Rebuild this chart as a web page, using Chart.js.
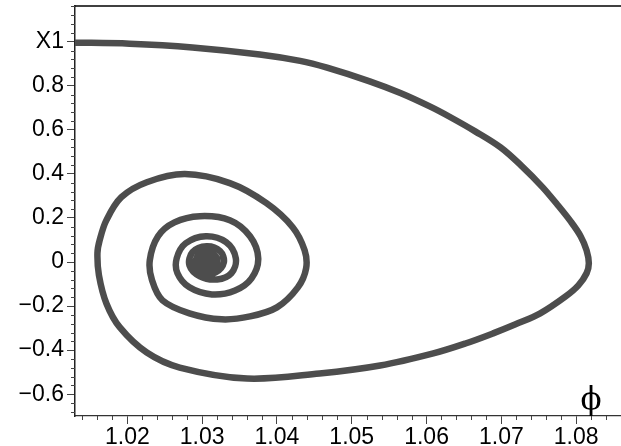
<!DOCTYPE html>
<html>
<head>
<meta charset="utf-8">
<script src="https://cdn.jsdelivr.net/npm/chart.js@4.4.1/dist/chart.umd.min.js"></script>
<style>
  html, body { margin: 0; padding: 0; background: #fff; }
  #wrap { width: 621px; height: 446px; }
</style>
</head>
<body>
<div id="wrap"><canvas id="phaseChart"></canvas></div>
<script>
// trajectory, phi on x and X1 on y
const phi = [
  1.0125, 1.0203, 1.0287, 1.0377, 1.0431, 1.0467, 1.0524, 1.0565, 1.0605, 1.0632,
  1.0665, 1.0699, 1.0728, 1.0755, 1.0775, 1.0793, 1.0806, 1.0814, 1.0817, 1.0814,
  1.0803, 1.0786, 1.0752, 1.0719, 1.0689, 1.0652, 1.0609, 1.0538, 1.0457,
  1.0360, 1.0270, 1.0226, 1.0190, 1.0172, 1.0162, 1.0160, 1.0163, 1.0172, 1.0192,
  1.0226, 1.0277, 1.0337, 1.0386, 1.0421, 1.0437, 1.0439, 1.0428, 1.0400, 1.0364,
  1.0326, 1.0283, 1.0247, 1.0233, 1.0230, 1.0241, 1.0263, 1.0297, 1.0337, 1.0364,
  1.0375, 1.0366, 1.0344, 1.0313, 1.0283, 1.0267, 1.0266, 1.0278, 1.0305, 1.0332,
  1.0345, 1.0339, 1.0320, 1.0297, 1.0283, 1.0287, 1.0306, 1.0324, 1.0329, 1.0318,
  1.0302, 1.0291, 1.0295, 1.0309, 1.0320, 1.0316, 1.0303, 1.0298, 1.0305, 1.0313,
  1.0309, 1.0303, 1.0307, 1.0309
];
const x1 = [
  0.996, 0.991, 0.974, 0.942, 0.913, 0.882, 0.820, 0.767, 0.705, 0.657,
  0.593, 0.520, 0.433, 0.340, 0.260, 0.183, 0.117, 0.053, -0.006, -0.051,
  -0.106, -0.156, -0.233, -0.283, -0.324, -0.370, -0.415, -0.470, -0.506,
  -0.529, -0.479, -0.411, -0.297, -0.188, -0.060, 0.040, 0.099, 0.190, 0.294,
  0.362, 0.399, 0.358, 0.267, 0.158, 0.053, -0.029, -0.115, -0.206, -0.247,
  -0.260, -0.233, -0.174, -0.083, 0.008, 0.117, 0.180, 0.208, 0.190, 0.117,
  0.017, -0.074, -0.129, -0.147, -0.115, -0.051, 0.017, 0.085, 0.117, 0.090,
  0.017, -0.051, -0.079, -0.065, -0.015, 0.044, 0.071, 0.049, -0.001, -0.047,
  -0.051, -0.015, 0.030, 0.044, 0.017, -0.024, -0.029, 0.003, 0.026, 0.008,
  -0.015, 0.000, 0.012, 0.000
];
const xTickLabels = [1.02, 1.03, 1.04, 1.05, 1.06, 1.07, 1.08];
const yTickLabels = [-0.6, -0.4, -0.2, 0, 0.2, 0.4, 0.6, 0.8, 1];
const xMinorStep = 0.002;
const yMinorStep = 0.04;

const pts = phi.map((p, i) => ({x: p, y: x1[i]}));
const tickFont = {family: '"Liberation Sans", Arial, sans-serif', size: 23};

function fmt(v) {
  return v < 0 ? '\u2212' + Math.abs(v) : String(v);
}

// minor ticks, top frame line and the two axis names
const extras = {
  id: 'extras',
  afterDraw(chart) {
    const ctx = chart.ctx, xs = chart.scales.x, ys = chart.scales.y, a = chart.chartArea;
    ctx.save();
    ctx.strokeStyle = '#444';
    ctx.lineWidth = 1;
    ctx.beginPath();
    for (let k = Math.ceil(xs.min / xMinorStep - 1e-9); k * xMinorStep <= xs.max; k++) {
      const v = k * xMinorStep;
      if (xTickLabels.some(t => Math.abs(t - v) < 1e-6)) continue;
      const px = Math.round(xs.getPixelForValue(v)) + 0.5;
      ctx.moveTo(px, a.bottom);
      ctx.lineTo(px, a.bottom + 4);
    }
    for (let k = Math.ceil(ys.min / yMinorStep - 1e-9); k * yMinorStep <= ys.max; k++) {
      const v = k * yMinorStep;
      if (yTickLabels.some(t => Math.abs(t - v) < 1e-6)) continue;
      const py = Math.round(ys.getPixelForValue(v)) + 0.5;
      ctx.moveTo(a.left, py);
      ctx.lineTo(a.left - 4, py);
    }
    ctx.stroke();

    ctx.beginPath();
    ctx.strokeStyle = '#000';
    ctx.lineWidth = 1.5;
    ctx.moveTo(a.left, a.top);
    ctx.lineTo(a.right, a.top);
    ctx.stroke();

    ctx.fillStyle = '#000';
    ctx.font = '23px "Liberation Sans", Arial, sans-serif';
    ctx.textAlign = 'right';
    ctx.textBaseline = 'middle';
    const oneW = ctx.measureText('1').width;
    ctx.fillText('X', a.left - 11 - oneW, ys.getPixelForValue(1));

    ctx.font = '31px "DejaVu Serif", serif';
    ctx.textAlign = 'center';
    ctx.textBaseline = 'alphabetic';
    ctx.fillText('\u03D5', xs.getPixelForValue(1.082), a.bottom - 7);
    ctx.restore();
  }
};

new Chart(document.getElementById('phaseChart'), {
  type: 'scatter',
  data: {
    datasets: [{
      data: pts,
      showLine: true,
      borderColor: '#4d4d4d',
      borderWidth: 6.5,
      pointRadius: 0,
      tension: 0.35,
      borderCapStyle: 'round',
      borderJoinStyle: 'round',
      clip: 0
    }]
  },
  options: {
    responsive: true,
    maintainAspectRatio: false,
    animation: false,
    layout: {padding: {top: 6, right: 0, left: 0, bottom: 0}},
    plugins: {legend: {display: false}, tooltip: {enabled: false}},
    scales: {
      x: {
        type: 'linear',
        min: 1.013,
        max: 1.086,
        afterBuildTicks: s => { s.ticks = xTickLabels.map(v => ({value: v})); },
        afterFit: s => { s.height = 30; s.paddingLeft = 0; s.paddingRight = 0; },
        grid: {drawOnChartArea: false, drawTicks: true, tickLength: 8, tickColor: '#444'},
        border: {display: true, color: '#333', width: 1.3},
        ticks: {font: tickFont, color: '#000', padding: 0, maxRotation: 0, autoSkip: false, callback: fmt}
      },
      y: {
        type: 'linear',
        min: -0.699,
        max: 1.162,
        afterBuildTicks: s => { s.ticks = yTickLabels.map(v => ({value: v})); },
        afterFit: s => { s.width = 75; s.paddingTop = 0; s.paddingBottom = 0; },
        grid: {drawOnChartArea: false, drawTicks: true, tickLength: 8, tickColor: '#444'},
        border: {display: true, color: '#222', width: 1.5},
        ticks: {font: tickFont, color: '#000', padding: 3, autoSkip: false, callback: fmt}
      }
    }
  },
  plugins: [extras]
});
</script>
</body>
</html>
